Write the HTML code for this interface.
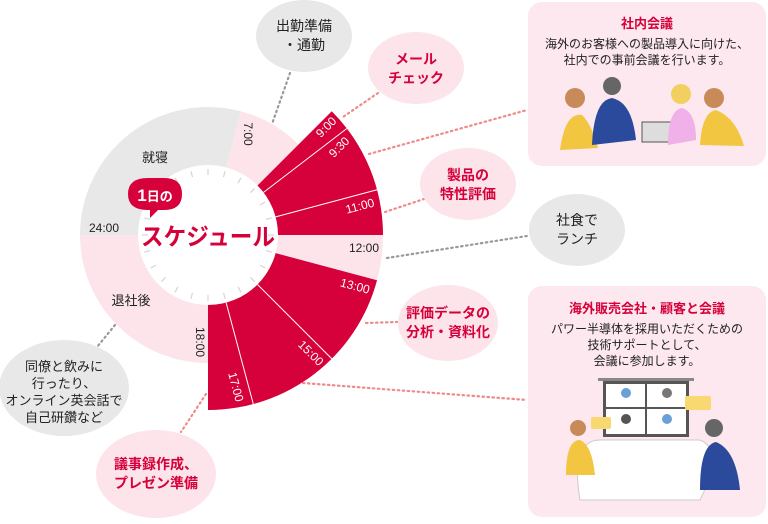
<!DOCTYPE html>
<html><head><meta charset="utf-8"><style>
body{margin:0;width:768px;height:519px;background:#fff;overflow:hidden;font-family:"Liberation Sans","Noto Sans CJK JP",sans-serif;}
svg text{font-family:"Liberation Sans","Noto Sans CJK JP",sans-serif;}
</style></head><body>
<svg id="s" width="768" height="519" viewBox="0 0 768 519">
<g id="ring"></g>
<g fill="none" stroke-width="2.2" stroke-dasharray="1.5 3.5" stroke-linecap="round">
<line x1="290" y1="73" x2="272" y2="124" stroke="#999"/>
<line x1="378" y1="93" x2="343" y2="117" stroke="#ef8a8a"/>
<line x1="369" y1="154" x2="527" y2="110" stroke="#ef8a8a"/>
<line x1="385" y1="212" x2="424" y2="199" stroke="#ef8a8a"/>
<line x1="387" y1="258" x2="527" y2="236" stroke="#999"/>
<line x1="366" y1="323" x2="397" y2="322" stroke="#ef8a8a"/>
<line x1="303" y1="383" x2="527" y2="400" stroke="#ef8a8a"/>
<line x1="206" y1="394" x2="181" y2="432" stroke="#ef8a8a"/>
<line x1="115" y1="325" x2="97" y2="347" stroke="#999"/>
</g>
<ellipse cx="304" cy="36" rx="48" ry="36" fill="#e8e8e8"/>
<text x="304" y="31" font-size="14" text-anchor="middle" fill="#222">出勤準備</text>
<text x="304" y="50" font-size="14" text-anchor="middle" fill="#222">・通勤</text>
<ellipse cx="416" cy="68" rx="48" ry="36" fill="#fce4ea"/>
<text x="416" y="64" font-size="14" font-weight="bold" text-anchor="middle" fill="#d6003a">メール</text>
<text x="416" y="83" font-size="14" font-weight="bold" text-anchor="middle" fill="#d6003a">チェック</text>
<ellipse cx="468" cy="184" rx="48" ry="36" fill="#fce4ea"/>
<text x="468" y="180" font-size="14" font-weight="bold" text-anchor="middle" fill="#d6003a">製品の</text>
<text x="468" y="199" font-size="14" font-weight="bold" text-anchor="middle" fill="#d6003a">特性評価</text>
<ellipse cx="577" cy="230" rx="48" ry="36" fill="#e8e8e8"/>
<text x="577" y="225" font-size="14" text-anchor="middle" fill="#222">社食で</text>
<text x="577" y="244" font-size="14" text-anchor="middle" fill="#222">ランチ</text>
<ellipse cx="448" cy="323" rx="50" ry="38" fill="#fce4ea"/>
<text x="448" y="318" font-size="14" font-weight="bold" text-anchor="middle" fill="#d6003a">評価データの</text>
<text x="448" y="337" font-size="14" font-weight="bold" text-anchor="middle" fill="#d6003a">分析・資料化</text>
<ellipse cx="64" cy="388" rx="65" ry="48" fill="#e8e8e8"/>
<text x="64" y="371" font-size="13" text-anchor="middle" fill="#222">同僚と飲みに</text>
<text x="64" y="388" font-size="13" text-anchor="middle" fill="#222">行ったり、</text>
<text x="64" y="405" font-size="13" text-anchor="middle" fill="#222">オンライン英会話で</text>
<text x="64" y="422" font-size="13" text-anchor="middle" fill="#222">自己研鑽など</text>
<ellipse cx="156" cy="474" rx="60" ry="44" fill="#fce4ea"/>
<text x="156" y="469" font-size="14" font-weight="bold" text-anchor="middle" fill="#d6003a">議事録作成、</text>
<text x="156" y="488" font-size="14" font-weight="bold" text-anchor="middle" fill="#d6003a">プレゼン準備</text>
<rect x="528" y="2" width="238" height="164" rx="14" fill="#fce8ee"/>
<text x="647" y="28" font-size="13" font-weight="bold" text-anchor="middle" fill="#d6003a">社内会議</text>
<text x="647" y="48" font-size="12" text-anchor="middle" fill="#222">海外のお客様への製品導入に向けた、</text>
<text x="647" y="64" font-size="12" text-anchor="middle" fill="#222">社内での事前会議を行います。</text>
<g>
<circle cx="575" cy="98" r="10" fill="#c98a5a"/><path d="M560 150 Q565 112 582 115 Q592 125 598 148Z" fill="#f2c640"/>
<circle cx="612" cy="86" r="9" fill="#666"/><path d="M592 145 Q594 100 612 98 Q632 102 636 140Z" fill="#2b4a9c"/>
<rect x="642" y="122" width="30" height="20" fill="#ddd" stroke="#555"/>
<circle cx="681" cy="94" r="10" fill="#f2d060"/><path d="M668 145 Q668 110 682 108 Q696 112 696 140Z" fill="#f0b0e8"/>
<circle cx="714" cy="98" r="10" fill="#c98a5a"/><path d="M700 145 Q702 112 716 110 Q736 118 744 146Z" fill="#f2c640"/>
</g>
<rect x="528" y="286" width="238" height="231" rx="14" fill="#fce8ee"/>
<text x="647" y="313" font-size="13" font-weight="bold" text-anchor="middle" fill="#d6003a">海外販売会社・顧客と会議</text>
<text x="647" y="333" font-size="12" text-anchor="middle" fill="#222">パワー半導体を採用いただくための</text>
<text x="647" y="349" font-size="12" text-anchor="middle" fill="#222">技術サポートとして、</text>
<text x="647" y="365" font-size="12" text-anchor="middle" fill="#222">会議に参加します。</text>
<g>
<rect x="598" y="378" width="96" height="3" fill="#888"/>
<rect x="603" y="381" width="86" height="56" fill="#555"/>
<rect x="606" y="384" width="39" height="23" fill="#fff"/><rect x="647" y="384" width="39" height="23" fill="#fff"/>
<rect x="606" y="409" width="39" height="25" fill="#fff"/><rect x="647" y="409" width="39" height="25" fill="#fff"/>
<circle cx="626" cy="393" r="5" fill="#6aa0d8"/><circle cx="667" cy="393" r="5" fill="#777"/>
<circle cx="626" cy="419" r="5" fill="#555"/><circle cx="667" cy="419" r="5" fill="#6aa0d8"/>
<path d="M580 500 Q570 440 600 440 L700 440 Q725 450 700 500Z" fill="#fff" stroke="#ccc"/>
<rect x="591" y="417" width="20" height="12" rx="2" fill="#f8d870"/>
<rect x="685" y="396" width="26" height="14" rx="2" fill="#f8d870"/>
<circle cx="578" cy="428" r="8" fill="#c98a5a"/><path d="M566 475 Q566 440 580 440 Q592 445 595 475Z" fill="#f2c640"/>
<circle cx="714" cy="428" r="9" fill="#666"/><path d="M700 490 Q700 445 716 442 Q736 450 740 490Z" fill="#2b4a9c"/>
</g>
<circle cx="208" cy="235" r="70" fill="#fff"/>
<g id="ticks" stroke="#d4d4d4" stroke-width="1.2"></g>
<path d="M128 194 Q128 178 148 178 L164 178 Q182 178 182 194 Q182 210 164 210 L158 210 L150 218 L150 210 L148 210 Q128 210 128 194Z" fill="#d6003a"/>
<text x="155" y="201" font-size="13" font-weight="bold" text-anchor="middle" fill="#fff"><tspan font-size="17">1</tspan>日の</text>
<text x="208" y="245" font-size="24" font-weight="bold" text-anchor="middle" fill="#d6003a" textLength="134" lengthAdjust="spacingAndGlyphs">スケジュール</text>
<g font-size="13" fill="#222">
<text x="155" y="162" text-anchor="middle">就寝</text>
<text x="131" y="305" text-anchor="middle">退社後</text>
<text x="104" y="232" text-anchor="middle" font-size="12">24:00</text>
<text x="364" y="252" text-anchor="middle" font-size="12">12:00</text>
<text transform="translate(244,134) rotate(90)" text-anchor="middle" font-size="12">7:00</text>
<text transform="translate(196,342) rotate(90)" text-anchor="middle" font-size="12">18:00</text>
</g>
<g font-size="12" fill="#fff" text-anchor="middle">
<text transform="translate(329,130) rotate(-45)">9:00</text>
<text transform="translate(342,150) rotate(-45)">9:30</text>
<text transform="translate(361,210) rotate(-15)">11:00</text>
<text transform="translate(354,290) rotate(15)">13:00</text>
<text transform="translate(308,356) rotate(45)">15:00</text>
<text transform="translate(232,388) rotate(75)">17:00</text>
</g>
</svg>
<script>
var cx=208,cy=235,ns="http://www.w3.org/2000/svg";
function pt(h,r){var a=(180+15*h)*Math.PI/180;return [cx+r*Math.cos(a),cy+r*Math.sin(a)];}
function sec(h1,h2,r0,r1,fill){var a=pt(h1,r1),b=pt(h2,r1),c=pt(h2,r0),d=pt(h1,r0);var lg=(h2-h1)*15>180?1:0;
var p=document.createElementNS(ns,"path");p.setAttribute("d","M"+a+" A"+r1+" "+r1+" 0 "+lg+" 1 "+b+" L"+c+" A"+r0+" "+r0+" 0 "+lg+" 0 "+d+"Z");p.setAttribute("fill",fill);document.getElementById("ring").appendChild(p);}
function ln(h,r0,r1,col,w,g){var a=pt(h,r0),b=pt(h,r1);var l=document.createElementNS(ns,"line");l.setAttribute("x1",a[0]);l.setAttribute("y1",a[1]);l.setAttribute("x2",b[0]);l.setAttribute("y2",b[1]);if(col){l.setAttribute("stroke",col);l.setAttribute("stroke-width",w);}document.getElementById(g).appendChild(l);}
var R="#d6003a",P="#fce4ea",G="#e8e8e8";
sec(0,7,60,128,G);sec(7,9,60,128,P);sec(18,24,60,128,P);
sec(9,12,60,175,R);sec(12,13,60,175,P);sec(13,18,60,175,R);
[9.5,11,15,17].forEach(function(h){ln(h,70,175,"#fff",1,"ring");});
for(var h=0;h<24;h++){ln(h,60,66,null,0,"ticks");}
</script>
</body></html>
